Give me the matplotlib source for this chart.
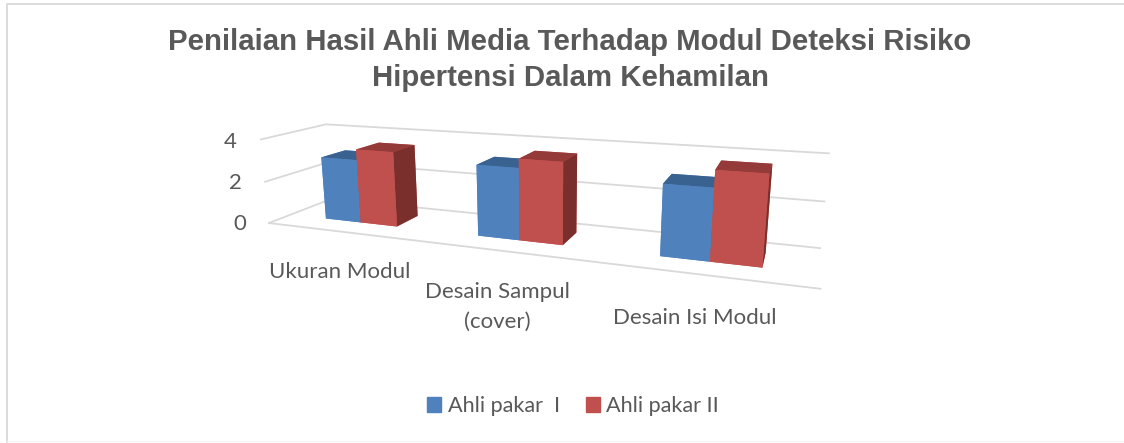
import numpy as np
import matplotlib
matplotlib.use('Agg')
import matplotlib.pyplot as plt
from matplotlib.lines import Line2D
from matplotlib.patches import Patch

# Data
categories = ['Ukuran Modul', 'Desain Sampul\n(cover)', 'Desain Isi Modul']
ahli_1 = [3.0, 3.2, 3.0]
ahli_2 = [3.5, 3.6, 3.7]
series_names = ['Ahli pakar  I', 'Ahli pakar II']
z_ticks = [0, 2, 4]

title = 'Penilaian Hasil Ahli Media Terhadap Modul Deteksi Risiko\nHipertensi Dalam Kehamilan'

TEXT = '#595959'
GRID = '#D9D9D9'
W, H = 1124, 443
# blue / red faces: bottom, top, front, back, left, right
blue_faces = ['#4F81BD', '#3A6290', '#4F81BD', '#4F81BD', '#4F81BD', '#3A6290']
red_faces = ['#C0504D', '#943A38', '#C0504D', '#C0504D', '#C0504D', '#7B2F2D']

fig = plt.figure(figsize=(W / 100, H / 100), dpi=100)
ax = fig.add_subplot(projection='3d', computed_zorder=False)
ax.set_xlim(0, 3)
ax.set_ylim(0, 1)
ax.set_zlim(0, 4)
ax.view_init(13.819, -68.644, 0.395)
ax.set_proj_type('persp', focal_length=0.2417)
ax.set_box_aspect((6.059, 1.218, 1))
ax.set_axis_off()

# fitted from the picture: pixels per projected unit and where the origin sits
scale, ox, oy = 3005.5, 526.4, 191.0
x0, x1 = ax.viewLim.intervalx
y0, y1 = ax.viewLim.intervaly
ax.set_position([(ox + scale * x0) / W, (H - oy + scale * y0) / H,
                 scale * (x1 - x0) / W, scale * (y1 - y0) / H])

# walls and floor
for z in z_ticks:
    ax.plot([0, 0, 3], [0, 1, 1], [z, z, z], color=GRID, lw=1.3, clip_on=False, zorder=1)
ax.plot([0, 3], [0, 0], [0, 0], color=GRID, lw=1.3, clip_on=False, zorder=1)

# bars
half, y_front, y_back = 0.244, 0.324, 0.717
for i in range(len(categories)):
    ax.bar3d(i + 0.5 - half, y_front, 0, half, y_back - y_front, ahli_1[i],
             color=blue_faces, shade=False, linewidth=0, zorder=2 + i * 2).set_clip_on(False)
    ax.bar3d(i + 0.5, y_front, 0, half, y_back - y_front, ahli_2[i],
             color=red_faces, shade=False, linewidth=0, zorder=3 + i * 2).set_clip_on(False)

fig.text(570 / W, 1 - 60 / H, title, ha='center', va='center', color=TEXT, fontsize=21.2,
         fontweight='bold', family='Liberation Sans', linespacing=1.32)

label_font = dict(ha='center', va='center', color=TEXT, fontsize=16, family='Lato')
for tick, (px, py) in zip(z_ticks, [(240, 224), (235, 183), (230, 142)]):
    fig.text(px / W, 1 - py / H, str(tick), **label_font)
for name, (px, py) in zip(categories, [(340, 272), (497, 307), (695, 318)]):
    fig.text(px / W, 1 - py / H, name, linespacing=1.6, **label_font)

handles = [Patch(color='#4F81BD'), Patch(color='#C0504D')]
fig.legend(handles, series_names, loc='center', bbox_to_anchor=(573 / W, 1 - 406 / H), ncols=2,
           frameon=False, handlelength=0.65, handleheight=0.65, handletextpad=0.3, columnspacing=1.2,
           labelcolor=TEXT, prop={'family': 'Lato', 'size': 15.6})

# chart frame
fig.add_artist(Line2D([7 / W, 7 / W, 1], [0, 1 - 4 / H, 1 - 4 / H], color=GRID, lw=1.3))
fig.add_artist(Line2D([7 / W, 1], [1 - 441 / H, 1 - 441 / H], color='#F5F5F5', lw=1))

fig.savefig('out.png', dpi=100)
